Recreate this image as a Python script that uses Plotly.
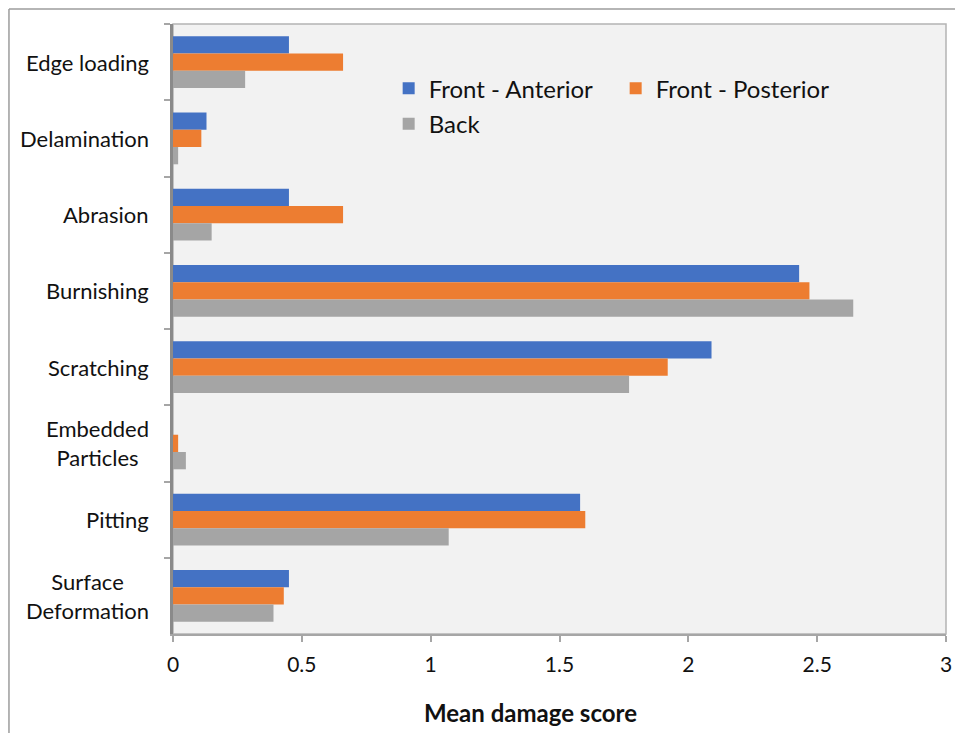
import plotly.graph_objects as go

# Damage modes, listed top to bottom
categories = [
    "Edge loading",
    "Delamination",
    "Abrasion",
    "Burnishing",
    "Scratching",
    "Embedded<br>Particles",
    "Pitting",
    "Surface<br>Deformation",
]

front_anterior = [0.45, 0.13, 0.45, 2.43, 2.09, 0.0, 1.58, 0.45]
front_posterior = [0.66, 0.11, 0.66, 2.47, 1.92, 0.02, 1.60, 0.43]
back = [0.28, 0.02, 0.15, 2.64, 1.77, 0.05, 1.07, 0.39]

x_ticks = [0, 0.5, 1, 1.5, 2, 2.5, 3]
x_tick_text = ["0", "0.5", "1", "1.5", "2", "2.5", "3"]

FONT = "Lato, Open Sans, sans-serif"

fig = go.Figure()
fig.add_trace(go.Bar(y=categories, x=front_anterior, orientation="h",
                     name="Front - Anterior", marker_color="#4472C4",
                     marker_line_width=0, legend="legend"))
fig.add_trace(go.Bar(y=categories, x=front_posterior, orientation="h",
                     name="Front - Posterior", marker_color="#ED7D31",
                     marker_line_width=0, legend="legend"))
fig.add_trace(go.Bar(y=categories, x=back, orientation="h",
                     name="Back", marker_color="#A5A5A5",
                     marker_line_width=0, legend="legend2"))

# Category labels, centred line by line
annotations = [
    dict(x=-0.028, xref="paper", y=c, yref="y", text=c, showarrow=False,
         xanchor="right", yanchor="middle", align="center",
         font=dict(family=FONT, size=22, color="#111111"))
    for c in categories
]
annotations.append(dict(x=0.462, xref="paper", y=-0.128, yref="paper",
                        text="<b>Mean damage score</b>", showarrow=False,
                        xanchor="center", yanchor="middle",
                        font=dict(family=FONT, size=24, color="#111111")))

# Outer chart frame (left and top edges)
shapes = [
    dict(type="rect", xref="paper", yref="paper", x0=0, y0=0, x1=1, y1=1,
         line=dict(color="#b4b4b4", width=1.5), layer="below"),
    dict(type="line", xref="paper", yref="paper", x0=-0.2122, x1=-0.2122,
         y0=-0.2, y1=1.0246, line=dict(color="#9c9c9c", width=1.5)),
    dict(type="line", xref="paper", yref="paper", x0=-0.2122, x1=1.05,
         y0=1.0246, y1=1.0246, line=dict(color="#9c9c9c", width=1.5)),
]

legend_font = dict(family=FONT, size=24, color="#111111")

fig.update_layout(
    width=955, height=733,
    margin=dict(l=173, r=9, t=24, b=99, autoexpand=False),
    paper_bgcolor="white",
    plot_bgcolor="#F2F2F2",
    barmode="group",
    bargap=0.32,
    bargroupgap=0,
    showlegend=True,
    legend=dict(orientation="h", x=0.279, y=0.894, xanchor="left",
                yanchor="middle", font=legend_font, bgcolor="rgba(0,0,0,0)",
                entrywidth=182, itemclick=False),
    legend2=dict(orientation="h", x=0.279, y=0.836, xanchor="left",
                 yanchor="middle", font=legend_font, bgcolor="rgba(0,0,0,0)",
                 itemclick=False),
    xaxis=dict(range=[0, 3], tickvals=x_ticks, ticktext=x_tick_text,
               showgrid=False, zeroline=False, showline=True,
               linecolor="#a6a6a6", linewidth=2, ticks="outside",
               ticklen=6, tickcolor="#a6a6a6", tickwidth=1.5,
               ticklabelstandoff=5, automargin=False,
               tickfont=dict(family=FONT, size=21, color="#111111")),
    yaxis=dict(autorange="reversed", showgrid=False, zeroline=False,
               showline=True, linecolor="#8a8a8a", linewidth=2.5,
               ticks="outside", tickson="boundaries", ticklen=6,
               tickcolor="#a6a6a6", tickwidth=1.5, showticklabels=False,
               automargin=False),
    annotations=annotations,
    shapes=shapes,
)

fig.write_html("out.html")
